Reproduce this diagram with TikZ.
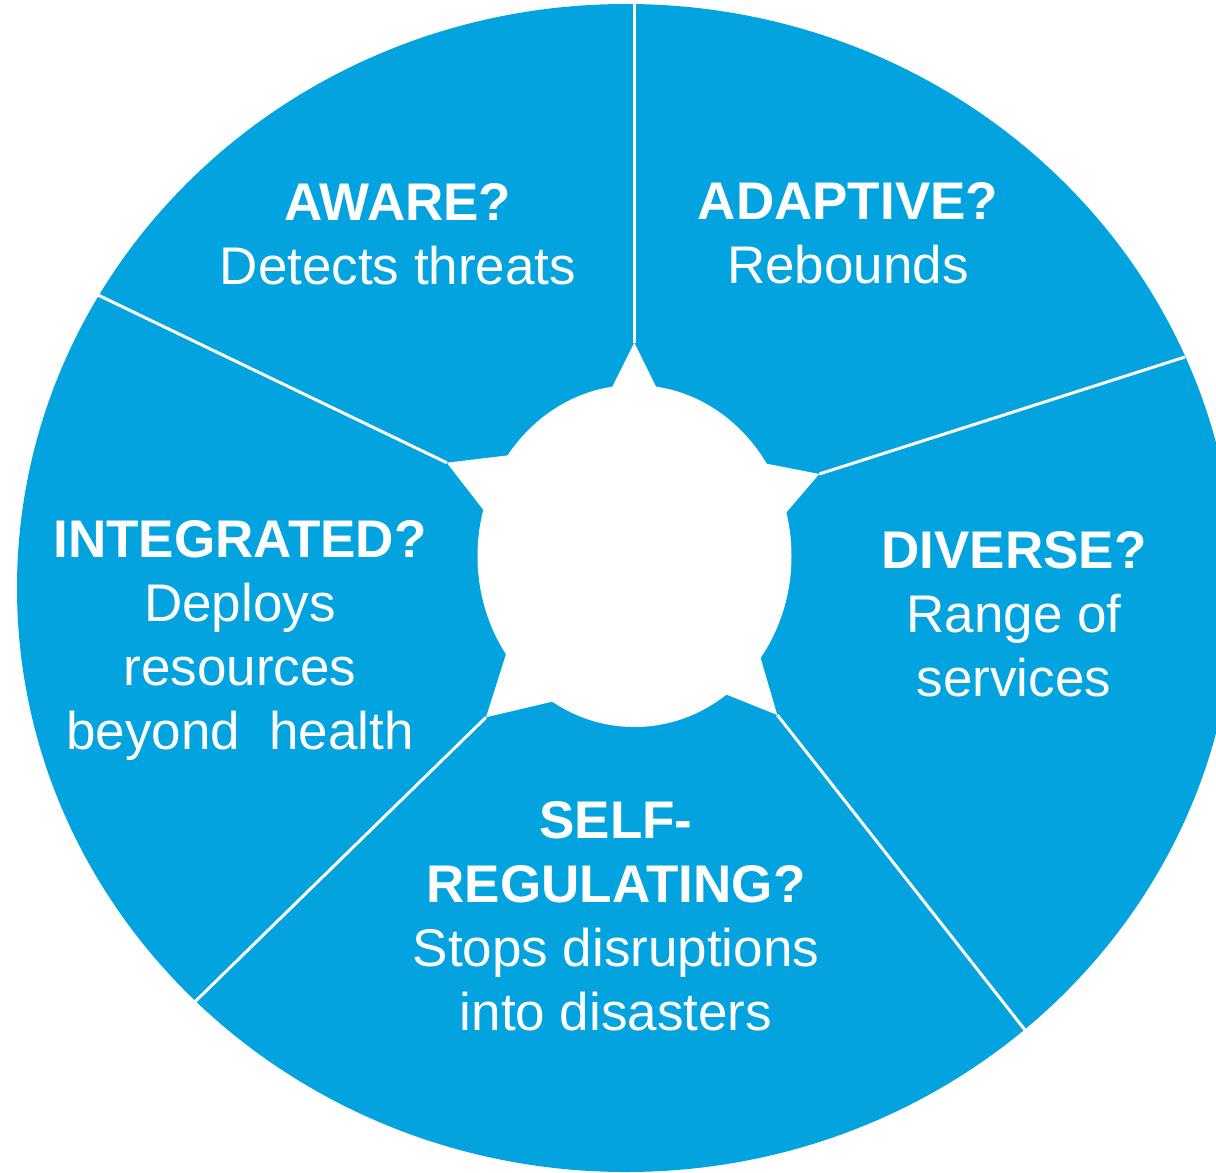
\documentclass[tikz,border=0pt]{standalone}
\usepackage{fontspec}
\setmainfont{Liberation Sans}
\definecolor{RingBlue}{HTML}{03A3DF}

\begin{document}
\begin{tikzpicture}[
        x=0.5pt, y=-0.5pt,
        ring/.style={fill=RingBlue},
        hub/.style={fill=white},
        spoke/.style={draw=white, line width=1.5pt},
        lbl/.style={text=white, align=center, anchor=base, inner sep=0pt,
                    font=\fontsize{26.5}{32}\selectfont},
      ]
        \useasboundingbox (0,0) rectangle (1216,1173);
        \clip (0,0) rectangle (1216,1173);
        % outer ring
        \fill[ring] (626,588) ellipse [x radius=609, y radius=584];
        % star tips and rim ends
        \coordinate (tipA) at (634.3,342.7);
        \coordinate (tipB) at (819.3,474);
        \coordinate (tipC) at (777.3,715);
        \coordinate (tipD) at (486,717.3);
        \coordinate (tipE) at (446.7,462.7);
        \coordinate (rimA) at (634.3,0);
        \coordinate (rimB) at (1185,357);
        \coordinate (rimC) at (1025,1030);
        \coordinate (rimD) at (195,1001.7);
        \coordinate (rimE) at (98,295);
        % hub
        \fill[hub] (634.5,556) ellipse [x radius=157, y radius=171];
        \fill[hub] (611.7,388) -- (tipA) -- (656.7,388) -- cycle;
        \fill[hub] (763,463) -- (tipB) -- (785,514) -- cycle;
        \fill[hub] (760,656) -- (tipC) -- (725,694) -- cycle;
        \fill[hub] (507,651) -- (tipD) -- (555,701) -- cycle;
        \fill[hub] (511,455) -- (tipE) -- (485,512) -- cycle;
        % spokes
        \draw[spoke] (tipA) -- (rimA);
        \draw[spoke] (tipB) -- (rimB);
        \draw[spoke] (tipC) -- (rimC);
        \draw[spoke] (tipD) -- (rimD);
        \draw[spoke] (tipE) -- (rimE);
        % labels (anchored at the last baseline)
        \node[lbl] (aware)    at (398,284.3)  {\textbf{AWARE?}\\Detects threats};
        \node[lbl] (adaptive) at (848,283)    {\textbf{ADAPTIVE?}\\Rebounds};
        \node[lbl] (diverse)  at (1014,696.7) {\textbf{DIVERSE?}\\Range of\\services};
        \node[lbl] (selfreg)  at (616,1030)   {\textbf{SELF-}\\\textbf{REGULATING?}\\Stops disruptions\\into disasters};
        \node[lbl] (integr)   at (240,749.3)  {\textbf{INTEGRATED?}\\Deploys\\resources\\beyond\ \ health};
      \end{tikzpicture}
\end{document}
